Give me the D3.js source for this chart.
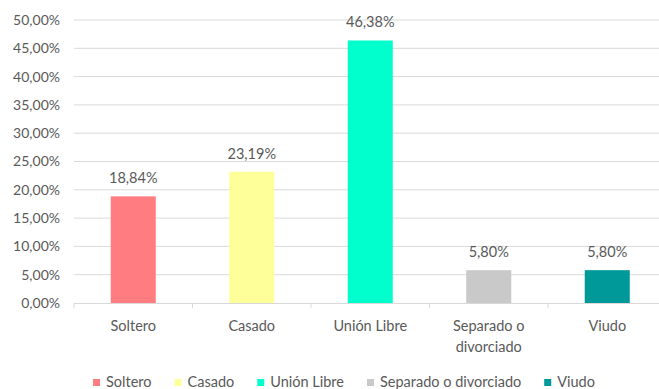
<!DOCTYPE html>
<html>
<head>
<meta charset="utf-8">
<script src="https://cdn.jsdelivr.net/npm/d3@7"></script>
<style>
  body { margin: 0; background: #fff; }
  svg { display: block; }
  text { font-family: Lato, "Open Sans", sans-serif; fill: #595959; }
</style>
</head>
<body>
<svg id="chart" width="659" height="389"></svg>
<script>
// Estado civil: porcentaje por categoría
const categories = ["Soltero", "Casado", "Unión Libre", "Separado o divorciado", "Viudo"];
const axisLabels = [["Soltero"], ["Casado"], ["Unión Libre"], ["Separado o", "divorciado"], ["Viudo"]];
const values = [18.84, 23.19, 46.38, 5.80, 5.80];
const colors = ["#FF7C80", "#FFFF99", "#00FFCC", "#C9C9C9", "#009999"];
const yTicks = [0, 5, 10, 15, 20, 25, 30, 35, 40, 45, 50];

const fmt = v => v.toFixed(2).replace(".", ",") + "%";

const svg = d3.select("#chart");
const margin = { left: 74, right: -7.5, top: 20, bottom: 86 };
const W = 659, H = 389;

const x = d3.scaleBand()
  .domain(categories)
  .range([margin.left, W - margin.right])
  .paddingInner(0.62)
  .paddingOuter(0.31);

const y = d3.scaleLinear()
  .domain([0, 50])
  .range([H - margin.bottom, margin.top]);

// Horizontal gridlines
svg.append("g")
  .selectAll("line")
  .data(yTicks.filter(t => t > 0))
  .join("line")
  .attr("x1", margin.left).attr("x2", W - margin.right)
  .attr("y1", d => y(d)).attr("y2", d => y(d))
  .attr("stroke", "#D9D9D9").attr("stroke-width", 1);

// Y axis labels
const yAxis = svg.append("g")
  .attr("transform", `translate(${margin.left},0)`)
  .call(d3.axisLeft(y).tickValues(yTicks).tickFormat(fmt).tickSize(0).tickPadding(14));
yAxis.select(".domain").remove();
yAxis.selectAll("text")
  .style("font-size", "14px")
  .style("font-family", "Lato, 'Open Sans', sans-serif")
  .attr("fill", "#595959");

// Bars
svg.append("g")
  .selectAll("rect")
  .data(categories)
  .join("rect")
  .attr("x", d => x(d))
  .attr("width", x.bandwidth())
  .attr("y", (d, i) => y(values[i]))
  .attr("height", (d, i) => y(0) - y(values[i]))
  .attr("fill", (d, i) => colors[i]);

// Value labels
svg.append("g")
  .selectAll("text")
  .data(categories)
  .join("text")
  .attr("x", d => x(d) + x.bandwidth() / 2)
  .attr("y", (d, i) => y(values[i]) - 13)
  .attr("text-anchor", "middle")
  .style("font-size", "14.5px")
  .text((d, i) => fmt(values[i]));

// Category axis: baseline and tick marks at band edges
const step = x.step();
const bandEdges = d3.range(categories.length + 1).map(i => margin.left + i * step);
const xa = svg.append("g");
xa.append("line")
  .attr("x1", margin.left).attr("x2", W - margin.right)
  .attr("y1", y(0) + 0.5).attr("y2", y(0) + 0.5)
  .attr("stroke", "#D9D9D9");
xa.selectAll("line.tick")
  .data(bandEdges)
  .join("line")
  .attr("class", "tick")
  .attr("x1", d => d).attr("x2", d => d)
  .attr("y1", y(0)).attr("y2", y(0) + 5)
  .attr("stroke", "#D9D9D9");

// Category labels (possibly two lines)
xa.selectAll("text.cat")
  .data(categories)
  .join("text")
  .attr("class", "cat")
  .attr("text-anchor", "middle")
  .style("font-size", "14.5px")
  .attr("x", d => x(d) + x.bandwidth() / 2)
  .attr("y", y(0) + 28)
  .each(function(d, i) {
    const t = d3.select(this);
    axisLabels[i].forEach((line, j) => {
      t.append("tspan")
        .attr("x", x(d) + x.bandwidth() / 2)
        .attr("dy", j === 0 ? 0 : 21)
        .text(line);
    });
  });

// Legend
const legend = svg.append("g");
const items = legend.selectAll("g")
  .data(categories)
  .join("g");
items.append("rect")
  .attr("width", 7).attr("height", 7)
  .attr("y", -8)
  .attr("fill", (d, i) => colors[i]);
items.append("text")
  .attr("x", 13)
  .style("font-size", "14.5px")
  .text(d => d);

let cx = 0;
items.each(function() {
  const g = d3.select(this);
  const w = 13 + g.select("text").node().getComputedTextLength();
  g.attr("transform", `translate(${cx},0)`);
  cx += w + 23;
});
const total = cx - 23;
legend.attr("transform", `translate(${344 - total / 2},${H - 2})`);
</script>
</body>
</html>
